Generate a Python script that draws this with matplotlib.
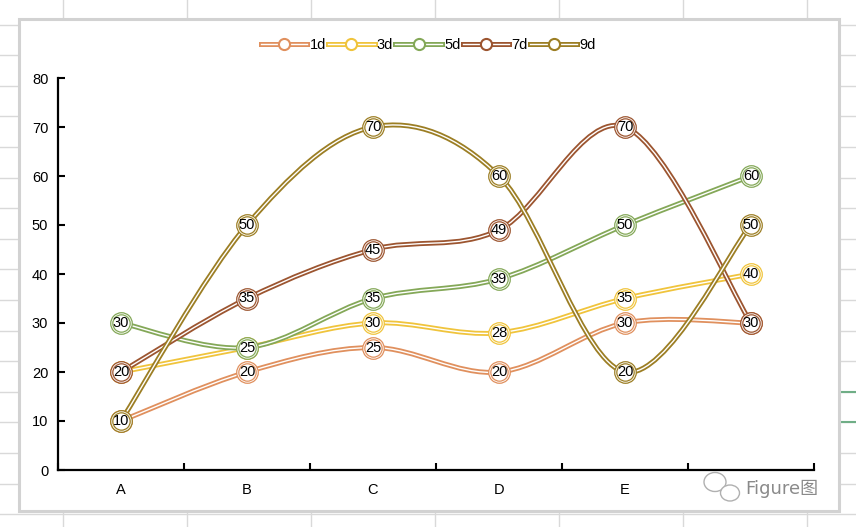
import numpy as np
import matplotlib.pyplot as plt
from matplotlib.path import Path
from matplotlib.patches import PathPatch, Rectangle, Ellipse
from matplotlib.lines import Line2D
from matplotlib.legend_handler import HandlerTuple
import matplotlib.patheffects as pe

plt.rcParams['font.family'] = ['Liberation Sans', 'DejaVu Sans', 'Noto Sans CJK SC']

# données
categories = ["A", "B", "C", "D", "E", "F"]
series_names = ["1d", "3d", "5d", "7d", "9d"]
v_1d = [10, 20, 25, 20, 30, 30]
v_3d = [20, 25, 30, 28, 35, 40]
v_5d = [30, 25, 35, 39, 50, 60]
v_7d = [20, 35, 45, 49, 70, 30]
v_9d = [10, 50, 70, 60, 20, 50]
values = [v_1d, v_3d, v_5d, v_7d, v_9d]
colors = ["#E0905E", "#F0C43C", "#84A858", "#9C5530", "#9C7E24"]


def smooth_path(x, y):
    # courbe lissée façon Excel : béziers cubiques (Catmull-Rom)
    p = np.column_stack([x, y]).astype(float)
    p_ext = np.vstack([p[0], p, p[-1]])
    verts = [p[0]]
    codes = [Path.MOVETO]
    for i in range(len(p) - 1):
        p0, p1, p2, p3 = p_ext[i], p_ext[i + 1], p_ext[i + 2], p_ext[i + 3]
        verts += [p1 + (p2 - p0) / 6, p2 - (p3 - p1) / 6, p2]
        codes += [Path.CURVE4] * 3
    return Path(verts, codes)


W, H = 856, 527
fig = plt.figure(figsize=(W / 100, H / 100), dpi=100)

# fond : grille du tableur
bg = fig.add_axes([0, 0, 1, 1])
bg.set_xlim(0, W)
bg.set_ylim(H, 0)
bg.axis("off")
for xv in [63, 187, 311, 435, 559, 683, 807]:
    bg.axvline(xv, color="#d9d9d9", lw=1)
for yv in np.arange(-6, H, 30.6):
    bg.axhline(yv, color="#d9d9d9", lw=1)
bg.plot([839, W], [392, 392], color="#6fae86", lw=1.5)
bg.plot([839, W], [422, 422], color="#6fae86", lw=1.5)
bg.add_patch(Rectangle((19, 19), 820, 492, facecolor="white",
                       edgecolor="#d2d2d2", lw=2.2, zorder=3))

# filigrane
bg.add_patch(Ellipse((715, 482), 22, 19, fill=False, ec="#b0b0b0", lw=1, zorder=4))
bg.add_patch(Ellipse((730, 493), 19, 16, fill=True, ec="#b0b0b0", lw=1,
                     zorder=5, fc="white"))
bg.text(745, 489, "Figure图", fontsize=13, color="#8a8a8a", va="center",
        ha="left", zorder=6, family=["DejaVu Sans", "Noto Sans CJK SC"])

ax = fig.add_axes([58 / W, (H - 470) / H, 756 / W, 392 / H])
ax.patch.set_alpha(0)
x = np.arange(len(categories))

for i, (name, vals, c) in enumerate(zip(series_names, values, colors)):
    patch = PathPatch(smooth_path(x, vals), fill=False, ec="white", lw=1.0,
                      zorder=2 + i * 0.01,
                      path_effects=[pe.Stroke(linewidth=3.6, foreground=c), pe.Normal()])
    ax.add_patch(patch)

handles = []
for i, (name, vals, c) in enumerate(zip(series_names, values, colors)):
    ax.plot(x, vals, "o", ms=14, mfc="white", mec=c, mew=2.4, zorder=4 + i * 0.01)
    ax.plot(x, vals, "o", ms=14, mfc="none", mec="white", mew=0.6, zorder=4 + i * 0.01)
    for xi, v in zip(x, vals):
        ax.text(xi, v, str(v), ha="center", va="center", fontsize=10.5,
                zorder=4 + i * 0.01)
    ln = Line2D([0], [0], color="white", lw=1.0,
                path_effects=[pe.Stroke(linewidth=3.6, foreground=c), pe.Normal()])
    mk = Line2D([0], [0], ls="none", marker="o", ms=8, mfc="white", mec=c, mew=1.5)
    handles.append((ln, mk))

ax.set_xlim(-0.5, len(categories) - 0.5)
ax.set_ylim(0, 80)
ax.set_yticks(range(0, 81, 10))
ax.set_xticks(np.arange(-0.5, len(categories)), labels=[""] * (len(categories) + 1))
ax.set_xticks(x, labels=categories[:-1] + [""], minor=True)
ax.tick_params(axis="x", which="major", direction="in", length=5, width=1.5)
ax.tick_params(axis="x", which="minor", length=0, pad=9, labelsize=10.5)
ax.tick_params(axis="y", direction="in", length=5, width=1.5, pad=7, labelsize=10.5)
for s in ["top", "right"]:
    ax.spines[s].set_visible(False)
for s in ["left", "bottom"]:
    ax.spines[s].set_linewidth(1.6)

fig.legend(handles, series_names, loc="center", bbox_to_anchor=(428 / W, 1 - 45 / H),
           ncol=5, frameon=False, fontsize=10.5, handlelength=3.2,
           handletextpad=0.15, columnspacing=0.15,
           handler_map={tuple: HandlerTuple(ndivide=1)})

fig.savefig("out.png", dpi=100)
